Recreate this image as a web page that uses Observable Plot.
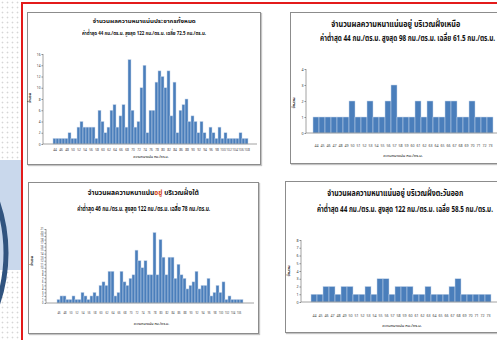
<!DOCTYPE html>
<html><head><meta charset="utf-8">
<script src="https://cdn.jsdelivr.net/npm/d3@7"></script>
<script src="https://cdn.jsdelivr.net/npm/@observablehq/plot@0.6"></script>
<style>
html,body{margin:0;padding:0;width:497px;height:340px;overflow:hidden;background:#fff;font-family:"Noto Sans Thai","Noto Sans","DejaVu Sans",sans-serif;}
#page{position:relative;width:497px;height:340px;overflow:hidden;}
.dots{position:absolute;left:0;top:0;width:21px;height:340px;background-image:radial-gradient(#d6d6d6 0.8px, transparent 1.1px);background-size:5px 5px;}
.blue{position:absolute;left:0;top:160px;width:21px;height:110px;background:#c9d8ec;}
.red{position:absolute;left:21px;top:2px;width:600px;height:400px;border-left:2px solid #e31b1b;border-top:2px solid #e31b1b;}
.panel{position:absolute;background:#fff;border:1px solid #8c8c8c;box-shadow:1px 1px 1px #c4c4c4;box-sizing:border-box;}
.t{position:absolute;left:0;right:0;text-align:center;white-space:nowrap;font-weight:bold;color:#111;line-height:1;}
.t span.in{display:inline-block;transform-origin:center center;}
.yt{position:absolute;transform:translate(-50%,-50%) rotate(-90deg);white-space:nowrap;font-weight:bold;line-height:1;}
.xt{position:absolute;left:0;right:0;text-align:center;white-space:nowrap;line-height:1;}
.plot{position:absolute;left:0;}
#ring{position:absolute;left:0;top:0;}
</style>
</head><body>
<div id="page">
  <div class="dots"></div>
  <div class="blue"></div>
  <svg id="ring" width="21" height="340"><circle cx="-152" cy="253" r="158" fill="none" stroke="#31547f" stroke-width="5"/></svg>
  <div class="red"></div>
</div>
<script>
// ---------- data ----------
const tlTitle1 = "จำนวนผลความหนาแน่นประชากรทั้งหมด";
const tlTitle2 = "ค่าต่ำสุด 44 กม./ตร.ม. สูงสุด 122 กม./ตร.ม. เฉลี่ย 72.5 กม./ตร.ม.";
const tlCats = [44,45,46,47,48,49,50,51,52,53,54,55,56,57,58,59,60,61,62,63,64,65,66,67,68,69,70,71,72,73,74,75,76,77,78,79,80,81,82,83,84,85,86,87,88,89,90,91,92,93,94,95,96,97,98,99,100,101,102,103,104,105,106,107,108];
const tlVals = [1,1,1,1,1,2,1,1,3,4, 3,3,3,3,1,6,4,2,3,6, 7,3,5,7,3,15,6,3,4,10, 14,2,6,6,11,13,12,10,13,5, 11,2,6,7,8,4,5,4,2,4, 2,1,3,2,1,3,1,2,1,1, 1,1,2,1,1];
const tlYTicks = [0,2,4,6,8,10,12,14,16];

const trTitle1 = "จำนวนผลความหนาแน่นอยู่ บริเวณฝั่งเหนือ";
const trTitle2 = "ค่าต่ำสุด 44 กม./ตร.ม. สูงสุด 98 กม./ตร.ม. เฉลี่ย 61.5 กม./ตร.ม.";
const trCats = [44,45,46,47,48,49,50,51,52,53,54,55,56,57,58,59,60,61,62,63,64,65,66,67,68,69,70,71,72,73];
const trVals = [1,1,1,1,1,1,2,1,1,2, 1,1,2,3,1,1,1,2,1,2, 1,1,2,2,1,1,2,1,1,1];
const trYTicks = [0,1,2,3,4];

const blTitle1 = "จำนวนผลความหนาแน่น";
const blTitleRed = "อยู่";
const blTitle1b = " บริเวณฝั่งใต้";
const blTitle2 = "ค่าต่ำสุด 46 กม./ตร.ม. สูงสุด 122 กม./ตร.ม. เฉลี่ย 78 กม./ตร.ม.";
const blCats = [46,47,48,49,50,51,52,53,54,55,56,57,58,59,60,61,62,63,64,65,66,67,68,69,70,71,72,73,74,75,76,77,78,79,80,81,82,83,84,85,86,87,88,89,90,91,92,93,94,95,96,97,98,99,100,101,102,103,104,105,106,107];
const blVals = [1,2,2,1,1,2,1,1,3,2, 1,2,3,2,5,6,5,9,9,2, 3,9,6,5,7,8,15,12,10,12, 8,8,20,8,18,13,8,13,13,7, 11,8,7,4,5,6,9,4,5,5, 7,2,3,5,3,6,1,2,1,1, 1,1];
const blYTicks = [0,1,2,3,4,5,6,7,8,9,10,11,12,13,14,15,16,17,18,19,20,21];

const brTitle1 = "จำนวนผลความหนาแน่นอยู่ บริเวณฝั่งตะวันออก";
const brTitle2 = "ค่าต่ำสุด 44 กม./ตร.ม. สูงสุด 122 กม./ตร.ม. เฉลี่ย 58.5 กม./ตร.ม.";
const brCats = [44,45,46,47,48,49,50,51,52,53,54,55,56,57,58,59,60,61,62,63,64,65,66,67,68,69,70,71,72,73];
const brVals = [1,1,2,2,1,2,2,1,1,2, 1,3,3,1,2,2,2,1,1,2, 1,1,1,2,3,1,1,1,1,1];
const brYTicks = [0,1,2,3,4,5,6,7,8];

const yTitle = "จำนวน";
const xTitle = "ความหนาแน่น กม./ตร.ม.";

// ---------- drawing ----------
const page = document.getElementById("page");

function axisLine(color) {
  return (index, scales, values, dims) => {
    const g = d3.create("svg:g");
    g.append("line")
      .attr("x1", dims.marginLeft).attr("x2", dims.marginLeft)
      .attr("y1", dims.marginTop).attr("y2", dims.height - dims.marginBottom)
      .attr("stroke", color).attr("stroke-width", 0.8);
    g.append("line")
      .attr("x1", dims.marginLeft).attr("x2", dims.width - dims.marginRight)
      .attr("y1", dims.height - dims.marginBottom).attr("y2", dims.height - dims.marginBottom)
      .attr("stroke", color).attr("stroke-width", 0.8);
    return g.node();
  };
}

const fitList = [];
function titleLine(parent, parts, topPx, fs, targetW) {
  const d = document.createElement("div");
  d.className = "t";
  d.style.top = topPx + "px";
  d.style.fontSize = fs + "px";
  const inner = document.createElement("span");
  inner.className = "in";
  parts.forEach(([txt, col]) => {
    const s = document.createElement("span");
    s.textContent = txt; if (col) s.style.color = col; inner.appendChild(s);
  });
  d.appendChild(inner);
  parent.appendChild(d);
  fitList.push([inner, targetW]);
}

function makePanel(c) {
  const p = document.createElement("div");
  p.className = "panel";
  Object.assign(p.style, {left: c.left + "px", top: c.top + "px", width: c.w + "px", height: c.h + "px"});
  titleLine(p, c.title1Parts || [[c.title1]], c.t1y - c.top - c.fs / 2, c.fs, c.w1);
  titleLine(p, [[c.title2]], c.t2y - c.top - c.fs / 2, c.fs, c.w2);

  const data = c.cats.map((d, i) => ({c: d, v: c.vals[i]}));
  const svgH = c.h - (c.svgTop - c.top);
  const chart = Plot.plot({
    width: c.w - 2, height: svgH - 1,
    marginLeft: c.ml, marginRight: c.mr, marginTop: c.mt, marginBottom: c.mb,
    style: {fontSize: c.tfs + "px", fontFamily: "'Noto Sans','DejaVu Sans',sans-serif", background: "transparent", color: "#333"},
    x: {type: "band", domain: c.cats, padding: 0, label: null, axis: null},
    y: {domain: c.yDomain, label: null, axis: null},
    marks: [
      Plot.barY(data, {x: "c", y: "v", fill: "#4a7ebb", stroke: "#c6d5ea", strokeWidth: 0.5}),
      axisLine("#8a8a8a"),
      Plot.axisY({ticks: c.yTicks, tickFormat: d3.format("d"), tickSize: 1.5, tickPadding: 1.5, fontSize: c.tfs, label: null, stroke: "#8a8a8a"}),
      Plot.axisX({ticks: c.cats.filter((d, i) => i % c.every === 0), tickSize: 0, tickPadding: c.tp, fontSize: c.tfs, label: null, fill: "#444"})
    ]
  });
  chart.classList.add("plot");
  chart.style.top = (c.svgTop - c.top - 1) + "px";
  p.appendChild(chart);

  const yt = document.createElement("div");
  yt.className = "yt"; yt.textContent = yTitle;
  yt.style.fontSize = c.yfs + "px";
  yt.style.left = (c.ytx - c.left) + "px"; yt.style.top = (c.yty - c.top) + "px";
  p.appendChild(yt);

  const xt = document.createElement("div");
  xt.className = "xt"; xt.textContent = xTitle;
  xt.style.fontSize = c.yfs + "px";
  xt.style.top = (c.xty - c.top - c.yfs / 2) + "px";
  xt.style.left = (c.ml - 1) + "px";
  p.appendChild(xt);
  page.insertBefore(p, document.querySelector(".red"));
}

makePanel({left: 27, top: 12, w: 234, h: 153, title1: tlTitle1, title2: tlTitle2, t1y: 21, t2y: 33, fs: 6, w1: 103, w2: 124,
  cats: tlCats, vals: tlVals, yDomain: [0, 16], yTicks: tlYTicks, svgTop: 48, ml: 15, mr: 3, mt: 6, mb: 20, tfs: 3.2, tp: 4, every: 2,
  yfs: 3.6, ytx: 30, yty: 97, xty: 157});

makePanel({left: 290, top: 12, w: 212, h: 152, title1: trTitle1, title2: trTitle2, t1y: 24, t2y: 38, fs: 8.5, w1: 129, w2: 175,
  cats: trCats, vals: trVals, yDomain: [0, 4], yTicks: trYTicks, svgTop: 60, ml: 15, mr: 2, mt: 9, mb: 30, tfs: 3.6, tp: 11, every: 1,
  yfs: 4, ytx: 293, yty: 102, xty: 155});

makePanel({left: 28, top: 182, w: 231, h: 152, title1Parts: [[blTitle1], [blTitleRed, "#d4461a"], [blTitle1b]], title2: blTitle2, t1y: 192, t2y: 208, fs: 7.5, w1: 111, w2: 133,
  cats: blCats, vals: blVals, yDomain: [0, 21], yTicks: blYTicks, svgTop: 222, ml: 17, mr: 4, mt: 7, mb: 30, tfs: 2.6, tp: 9, every: 2,
  yfs: 3.6, ytx: 32, yty: 260, xty: 324});

makePanel({left: 285, top: 181, w: 220, h: 152, title1: brTitle1, title2: brTitle2, t1y: 193, t2y: 209, fs: 8.5, w1: 136, w2: 176,
  cats: brCats, vals: brVals, yDomain: [0, 8], yTicks: brYTicks, svgTop: 232, ml: 15, mr: 4, mt: 8, mb: 30, tfs: 3.6, tp: 12, every: 1,
  yfs: 4, ytx: 288, yty: 270, xty: 325});

// fit title widths to the reference
fitList.forEach(([el, tw]) => {
  const w = el.getBoundingClientRect().width;
  if (w > 0) el.style.transform = `scaleX(${(tw / w).toFixed(3)})`;
});
</script>
</body></html>
